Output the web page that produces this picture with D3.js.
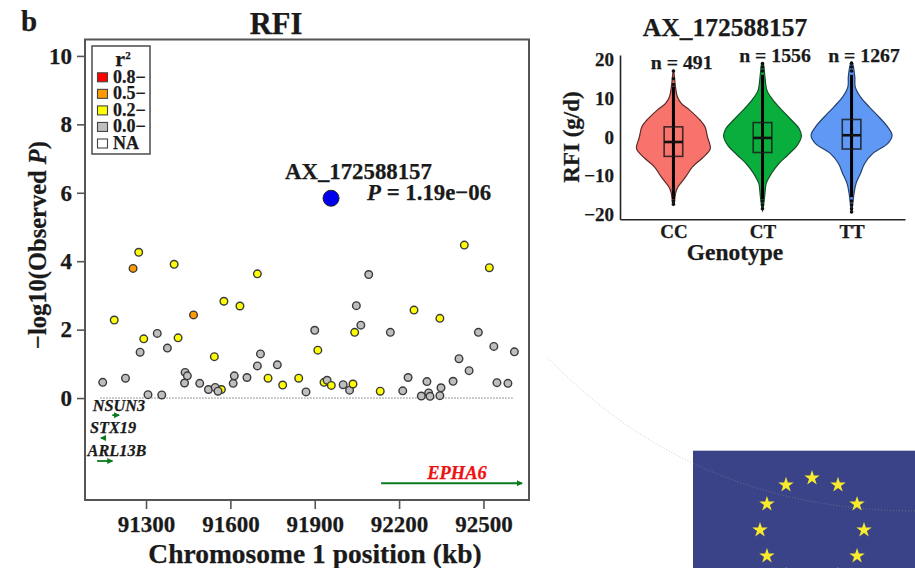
<!DOCTYPE html>
<html>
<head>
<meta charset="utf-8">
<script src="https://d3js.org/d3.v7.min.js"></script>
<style>
    html, body { margin: 0; padding: 0; background: #fff; overflow: hidden; }
    text { font-family: "Liberation Serif", serif; font-weight: bold; fill: #1a1a1a; stroke: #1a1a1a; stroke-width: 0.25px; }
</style>
</head>
<body>
<svg width="915" height="568"></svg>
<script type="text/javascript">
    // locus plot: position (kb), -log10(P), LD class (index into ldLabels)
    var snpPos = [91187, 91254, 91274, 91400, 91696, 91577, 91634, 91469, 91292, 91340, 91414, 91376,
        91279, 91543, 91707, 91696, 91767, 91146, 91227, 91439, 91447, 91437, 91491, 91522,
        91568, 91546, 91556, 91610, 91614, 91659, 91734, 91786, 91843, 91869, 91307, 91356,
        92432, 92521, 92092, 92048, 92253, 92345, 92064, 91900, 92042, 92169, 92482, 92537,
        92610, 91911, 92413, 92449, 92232, 92299, 92392, 92548, 92587, 91933, 91944, 91959,
        92001, 92024, 92036, 92133, 92213, 92349, 92305, 92279, 92310, 92345];
    var snpLogP = [2.28, 3.79, 4.26, 3.91, 3.63, 2.83, 2.69, 2.43, 1.73, 1.89, 1.76, 1.46,
        1.34, 1.21, 1.29, 0.94, 0.97, 0.46, 0.58, 0.75, 0.65, 0.44, 0.43, 0.25,
        0.25, 0.31, 0.20, 0.43, 0.65, 0.60, 0.58, 0.38, 0.58, 0.18, 0.10, 0.09,
        4.47, 3.81, 3.61, 2.70, 2.57, 2.33, 2.13, 1.98, 1.92, 1.92, 1.92, 1.51,
        1.35, 1.40, 1.15, 0.80, 0.60, 0.48, 0.49, 0.45, 0.43, 0.46, 0.52, 0.37,
        0.39, 0.23, 0.41, 0.20, 0.21, 0.30, 0.15, 0.06, 0.05, 0.07];
    var snpLd = [2, 1, 2, 2, 2, 2, 2, 1, 2, 3, 2, 3,
        3, 2, 3, 3, 3, 3, 3, 3, 3, 3, 3, 3,
        2, 3, 3, 3, 3, 3, 2, 2, 2, 3, 3, 3,
        2, 2, 3, 3, 2, 2, 3, 3, 2, 3, 3, 3,
        3, 2, 3, 3, 3, 3, 3, 3, 3, 2, 3, 2,
        3, 3, 2, 2, 3, 3, 3, 3, 3, 3];
    var leadName = "AX_172588157";
    var leadPos = 91958, leadLogP = 5.84;

    var ldLabels = ["0.8\u2212", "0.5\u2212", "0.2\u2212", "0.0\u2212", "NA"];
    var ldColors = ["#ff0000", "#ff9a00", "#ffff00", "#bebebe", "#ffffff"];

    var xTicks = [91300, 91600, 91900, 92200, 92500];
    var yTicks = [0, 2, 4, 6, 8, 10];

    var geneNames = ["NSUN3", "STX19", "ARL13B", "EPHA6"];
    var geneStart = [91180, 91158, 91126, 92136];
    var geneEnd = [91204, 91140, 91180, 92637];
    var geneRow = [-0.5, -1.17, -1.84, -2.49];

    // violins: RFI levels and relative density for each genotype
    var genotypes = ["CC", "CT", "TT"];
    var counts = ["n = 491", "n = 1556", "n = 1267"];
    var violinFill = ["#f8736b", "#0aae3c", "#5f98f5"];
    var violinLine = ["#5a2a28", "#14532a", "#24406e"];
    var ccLevels = [17.3, 15.9, 12.9, 10.3, 8.6, 6.9, 4.3, 2.6, 0, -3, -5.2, -7.7, -10.3, -12.9, -14.6, -17.1, -17.6];
    var ccDensity = [0, 0.02, 0.05, 0.1, 0.2, 0.4, 0.66, 0.78, 0.84, 0.91, 0.74, 0.47, 0.3, 0.11, 0.05, 0.02, 0];
    var ctLevels = [19.1, 18.9, 15.5, 12, 9.5, 6.9, 4.3, 2.2, 0.2, -2.1, -4.7, -6.9, -9.4, -12, -14.6, -18, -18.9];
    var ctDensity = [0, 0.02, 0.06, 0.11, 0.26, 0.48, 0.72, 0.9, 0.96, 0.86, 0.62, 0.4, 0.22, 0.09, 0.06, 0.02, 0];
    var ttLevels = [19.2, 19, 15.5, 12.9, 10.3, 7.7, 5.2, 2.6, 0.4, -1.7, -4.3, -6.9, -9.4, -12, -14.6, -18, -19.5];
    var ttDensity = [0, 0.02, 0.08, 0.09, 0.22, 0.44, 0.67, 0.89, 1, 0.89, 0.52, 0.32, 0.22, 0.11, 0.06, 0.02, 0];
    var boxQ1 = [-5, -4, -3.1];
    var boxMedian = [-1.3, -0.25, 0.44];
    var boxQ3 = [2.6, 3.7, 4.5];
    var whiskerLow = [-16, -16, -15.5];
    var whiskerHigh = [13, 16, 16];
    var outliers = [[17, 15, 13.5, -13.5, -15, -16.5, -17.3],
        [18.9, 18, 17, -16.5, -17.5, -18.5],
        [19, 18, 17, -16.5, -17.5, -18.5, -19.3]];
    var rfiTicks = [-20, -10, 0, 10, 20];

    var svg = d3.select("svg");

    /* ---------- left: locus plot ---------- */
    var x = d3.scaleLinear().domain([91083, 92662]).range([85, 529]);
    var y = d3.scaleLinear().domain([-2.98, 10.48]).range([500, 39.5]);
    var frameColor = "#555";

    svg.append("text").attr("x", 21).attr("y", 31).style("font-size", "29px").text("b");
    svg.append("text").attr("x", 276).attr("y", 34).attr("text-anchor", "middle")
            .style("font-size", "30.5px").text("RFI");

    svg.append("rect")
            .attr("x", x.range()[0]).attr("y", y.range()[1])
            .attr("width", x.range()[1] - x.range()[0])
            .attr("height", y.range()[0] - y.range()[1])
            .attr("fill", "none").attr("stroke", frameColor).attr("stroke-width", 2);

    var xAxis = svg.append("g").attr("transform", "translate(0,500)")
            .call(d3.axisBottom(x).tickValues(xTicks).tickFormat(d3.format("d")).tickSize(9).tickPadding(7));
    var yAxis = svg.append("g").attr("transform", "translate(85,0)")
            .call(d3.axisLeft(y).tickValues(yTicks).tickSize(8).tickPadding(5));
    [xAxis, yAxis].forEach(function (a) {
        a.select(".domain").remove();
        a.selectAll("line").attr("stroke", frameColor).attr("stroke-width", 1.6);
        a.selectAll("text").style("font-size", "23px").style("font-family", "Liberation Serif");
    });

    svg.append("text").attr("x", 315).attr("y", 563).attr("text-anchor", "middle")
            .style("font-size", "27.5px").text("Chromosome 1 position (kb)");
    var yLabel = svg.append("text").attr("transform", "translate(46,245) rotate(-90)")
            .attr("text-anchor", "middle").style("font-size", "24.5px");
    yLabel.append("tspan").text("\u2212log10(Observed ");
    yLabel.append("tspan").style("font-style", "italic").text("P");
    yLabel.append("tspan").text(")");

    // baseline at 0
    svg.append("line")
            .attr("x1", x(91137)).attr("x2", x(92605))
            .attr("y1", y(0)).attr("y2", y(0))
            .attr("stroke", "#777").attr("stroke-width", 1).attr("stroke-dasharray", "1.5,1.5");

    svg.append("g").selectAll("circle")
            .data(snpPos)
            .enter()
            .append("circle")
            .attr("cx", function (d) {
                return x(d);
            })
            .attr("cy", function (d, i) {
                return y(snpLogP[i]);
            })
            .attr("r", 3.8)
            .attr("fill", function (d, i) {
                return ldColors[snpLd[i]];
            })
            .attr("stroke", "#3a3a3a")
            .attr("stroke-width", 1.4);

    svg.append("circle")
            .attr("cx", x(leadPos)).attr("cy", y(leadLogP)).attr("r", 8)
            .attr("fill", "#0000ee").attr("stroke", "#222").attr("stroke-width", 1);
    svg.append("text").attr("x", 285).attr("y", 179).style("font-size", "22.8px").text(leadName);
    var pLabel = svg.append("text").attr("x", 367).attr("y", 200).style("font-size", "22.8px");
    pLabel.append("tspan").style("font-style", "italic").text("P");
    pLabel.append("tspan").text(" = 1.19e\u221206");

    // genes
    var geneColor = "#0a7a1e";
    svg.append("defs").append("marker")
            .attr("id", "head").attr("viewBox", "0 0 6 6").attr("refX", 5).attr("refY", 3)
            .attr("markerWidth", 6).attr("markerHeight", 6).attr("markerUnits", "userSpaceOnUse")
            .attr("orient", "auto")
            .append("path").attr("d", "M0,0L6,3L0,6Z").attr("fill", geneColor);
    svg.append("g").selectAll("line")
            .data(geneNames)
            .enter()
            .append("line")
            .attr("x1", function (d, i) {
                return x(geneStart[i]);
            })
            .attr("x2", function (d, i) {
                return x(geneEnd[i]);
            })
            .attr("y1", function (d, i) {
                return y(geneRow[i]);
            })
            .attr("y2", function (d, i) {
                return y(geneRow[i]);
            })
            .attr("stroke", geneColor).attr("stroke-width", 1.8)
            .attr("marker-end", "url(#head)");
    var geneTextX = [119, 113, 117, 457], geneTextY = [411, 433, 456, 479];
    svg.append("g").selectAll("text")
            .data(geneNames)
            .enter()
            .append("text")
            .attr("x", function (d, i) {
                return geneTextX[i];
            })
            .attr("y", function (d, i) {
                return geneTextY[i];
            })
            .attr("text-anchor", "middle")
            .style("font-style", "italic")
            .style("font-size", function (d) {
                return d === "EPHA6" ? "18.5px" : "16.3px";
            })
            .style("fill", function (d) {
                return d === "EPHA6" ? "#ee1111" : "#1a1a1a";
            })
            .style("stroke", function (d) {
                return d === "EPHA6" ? "#ee1111" : "#1a1a1a";
            })
            .text(function (d) {
                return d;
            });

    // legend
    var legend = svg.append("g");
    legend.append("rect").attr("x", 92).attr("y", 46).attr("width", 58).attr("height", 108)
            .attr("fill", "#fff").attr("stroke", frameColor).attr("stroke-width", 1.6);
    var legendTitle = legend.append("text").attr("x", 123).attr("y", 66).attr("text-anchor", "middle")
            .style("font-size", "22px");
    legendTitle.append("tspan").text("r");
    legendTitle.append("tspan").attr("dy", -7).style("font-size", "11px").text("2");
    var legendRow = d3.scalePoint().domain(ldLabels).range([77.3, 143.5]);
    legend.selectAll("rect.key")
            .data(ldLabels)
            .enter()
            .append("rect")
            .attr("class", "key")
            .attr("x", 97.5).attr("width", 10).attr("height", 9)
            .attr("y", function (d) {
                return legendRow(d) - 4.5;
            })
            .attr("fill", function (d, i) {
                return ldColors[i];
            })
            .attr("stroke", "#444").attr("stroke-width", 1.1);
    legend.selectAll("text.key")
            .data(ldLabels)
            .enter()
            .append("text")
            .attr("class", "key")
            .attr("x", 113)
            .attr("y", function (d) {
                return legendRow(d) + 5.5;
            })
            .style("font-size", "18px")
            .text(function (d) {
                return d;
            });

    /* ---------- right: violins ---------- */
    var vx = d3.scalePoint().domain(genotypes).range([620, 905]).padding(0.6);
    var vy = d3.scaleLinear().domain([-21.2, 21.1]).range([219.3, 55]);
    var halfWidth = d3.scaleLinear().domain([0, 1]).range([0, 40.5]);
    var levels = [ccLevels, ctLevels, ttLevels];
    var densities = [ccDensity, ctDensity, ttDensity];

    svg.append("text").attr("x", 725).attr("y", 36).attr("text-anchor", "middle")
            .style("font-size", "25.5px").text(leadName);

    genotypes.forEach(function (g, k) {
        var cx = vx(g);
        var area = d3.area()
                .curve(d3.curveCatmullRom)
                .y(function (d) {
                    return vy(d);
                })
                .x0(function (d, i) {
                    return cx - halfWidth(densities[k][i]);
                })
                .x1(function (d, i) {
                    return cx + halfWidth(densities[k][i]);
                });
        var group = svg.append("g");
        group.append("path").datum(levels[k])
                .attr("d", area)
                .attr("fill", violinFill[k])
                .attr("stroke", violinLine[k])
                .attr("stroke-width", 1.2);
        group.append("line")
                .attr("x1", cx).attr("x2", cx)
                .attr("y1", vy(whiskerHigh[k])).attr("y2", vy(whiskerLow[k]))
                .attr("stroke", "#000").attr("stroke-width", 3);
        group.selectAll("circle")
                .data(outliers[k])
                .enter()
                .append("circle")
                .attr("cx", cx)
                .attr("cy", function (d) {
                    return vy(d);
                })
                .attr("r", 1.8)
                .attr("fill", "#111");
        group.append("rect")
                .attr("x", cx - 9.3).attr("width", 18.6)
                .attr("y", vy(boxQ3[k]))
                .attr("height", vy(boxQ1[k]) - vy(boxQ3[k]))
                .attr("fill", "none").attr("stroke", "#1c1c1c").attr("stroke-width", 1.6).attr("stroke-opacity", 0.85);
        group.append("line")
                .attr("x1", cx - 9.3).attr("x2", cx + 9.3)
                .attr("y1", vy(boxMedian[k])).attr("y2", vy(boxMedian[k]))
                .attr("stroke", "#111").attr("stroke-width", 2.6);
    });

    var countX = [681.7, 775, 864], countY = [69, 61.7, 61.7];
    svg.append("g").selectAll("text")
            .data(counts)
            .enter()
            .append("text")
            .attr("x", function (d, i) {
                return countX[i];
            })
            .attr("y", function (d, i) {
                return countY[i];
            })
            .attr("text-anchor", "middle")
            .style("font-size", "19.8px")
            .text(function (d) {
                return d;
            });

    var vxAxis = svg.append("g").attr("transform", "translate(0,219.3)")
            .call(d3.axisBottom(vx).tickSize(0).tickPadding(5));
    var vyAxis = svg.append("g").attr("transform", "translate(620,0)")
            .call(d3.axisLeft(vy).tickValues(rfiTicks).tickSize(0).tickPadding(6));
    [vxAxis, vyAxis].forEach(function (a) {
        a.select(".domain").attr("stroke", "#222").attr("stroke-width", 1.6);
        a.selectAll("text").style("font-size", "19px").style("font-family", "Liberation Serif");
    });

    svg.append("text").attr("x", 735).attr("y", 260).attr("text-anchor", "middle")
            .style("font-size", "23.5px").text("Genotype");
    svg.append("text").attr("transform", "translate(579,137) rotate(-90)").attr("text-anchor", "middle")
            .style("font-size", "23px").text("RFI (g/d)");

    /* ---------- flag in the lower right corner ---------- */
    svg.append("rect").attr("x", 693).attr("y", 450.7).attr("width", 222).attr("height", 118)
            .attr("fill", "#3a4387");
    svg.append("g").selectAll("path")
            .data(d3.range(12))
            .enter()
            .append("path")
            .attr("d", d3.symbol().type(d3.symbolStar).size(74))
            .attr("transform", function (d) {
                var a = d / 12 * 2 * Math.PI;
                return "translate(" + (812 + 52 * Math.sin(a)) + "," + (530 - 52 * Math.cos(a)) + ")";
            })
            .attr("fill", "#f8ea2c");

    // faint dotted arc behind the page
    var arc = d3.path();
    arc.moveTo(548, 358);
    arc.quadraticCurveTo(695, 510, 915, 511);
    svg.append("path").attr("d", arc.toString())
            .attr("fill", "none").attr("stroke", "#999").attr("stroke-opacity", 0.5)
            .attr("stroke-width", 1).attr("stroke-dasharray", "1,2");
</script>
</body>
</html>
